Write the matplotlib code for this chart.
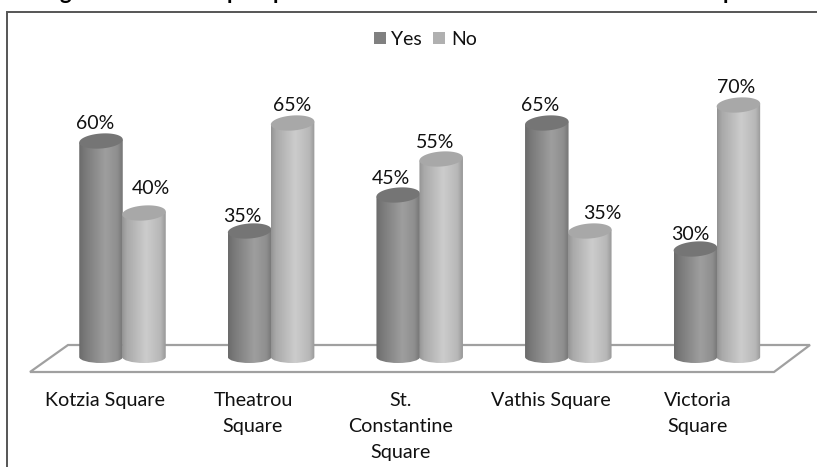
#!/usr/bin/env python3
"""
Yes/No shares per square, drawn as 3D style cylinders.
"""

import numpy as np
import matplotlib
matplotlib.use("Agg")
import matplotlib.pyplot as plt
from matplotlib.path import Path
from matplotlib.patches import PathPatch, Polygon, Rectangle

categories = ["Kotzia Square", "Theatrou\nSquare", "St.\nConstantine\nSquare", "Vathis Square", "Victoria\nSquare"]
yes_values = [60, 35, 45, 65, 30]
no_values = [40, 65, 55, 35, 70]
series_names = ["Yes", "No"]

# label nudges in pixels, the labels are not placed evenly in the picture
yes_dx = [-6, -7, -7, -7, -5]
no_dx = [7, 0, -6, 13, -2]
no_dy = [25, 17, 17, 17, 17]
yes_dy = [17, 15, 16, 17, 15]
label_centres = [105, 253, 401, 551, 698]

plt.rcParams['font.family'] = ['Lato', 'DejaVu Sans']

W, H = 817, 467
PX_PER_CAT = 148.6
PX_PER_PCT = 3.6
X0_PX = 122.5
Y0_PX = 357.0


def px_x(p):
    return (p - X0_PX) / PX_PER_CAT


def px_y(p):
    return (Y0_PX - p) / PX_PER_PCT


fig = plt.figure(figsize=(W / 100, H / 100), dpi=100)
ax = fig.add_axes([0, 0, 1, 1])
ax.set_xlim(px_x(0), px_x(W))
ax.set_ylim(px_y(H), px_y(0))
ax.axis("off")

bar_w = 43.5 / PX_PER_CAT
rx = bar_w / 2
ry_top = 7.5 / PX_PER_PCT
ry_bot = 6.0 / PX_PER_PCT
tilt = 1.5 / PX_PER_PCT

# frame around the chart (cut off on the right and bottom)
ax.plot([px_x(7.5), px_x(7.5), px_x(W)], [px_y(H), px_y(12), px_y(12)],
        color="#555555", lw=1.4, solid_joinstyle="miter", zorder=1)

# floor
floor = [(30, 372), (68, 345), (810, 345), (774, 372)]
ax.add_patch(Polygon([(px_x(a), px_y(b)) for a, b in floor], closed=True,
                     facecolor="white", edgecolor="#a0a0a0", lw=1.6, zorder=1))


def shade(stops):
    xs = np.linspace(0, 1, 64)
    pos = [s[0] for s in stops]
    val = [s[1] for s in stops]
    return np.interp(xs, pos, val).reshape(1, -1)


yes_body = [(0, 0.42), (0.12, 0.47), (0.6, 0.62), (0.88, 0.56), (1, 0.46)]
no_body = [(0, 0.58), (0.1, 0.66), (0.55, 0.80), (0.88, 0.72), (1, 0.60)]
yes_top = "#757575"
no_top = "#a8a8a8"


def cylinder(xc, value, body, top, z):
    left, right = xc - rx, xc + rx
    verts = [(left, value - tilt), (left, 0)]
    codes = [Path.MOVETO, Path.LINETO]
    # bottom curve bends below zero in data
    k = 0.5523
    verts += [(left, -k * ry_bot), (xc - k * rx, -ry_bot), (xc, -ry_bot),
              (xc + k * rx, -ry_bot), (right, -k * ry_bot), (right, 0)]
    codes += [Path.CURVE4] * 6
    verts += [(right, value + tilt), (left, value - tilt)]
    codes += [Path.LINETO, Path.CLOSEPOLY]
    patch = PathPatch(Path(verts, codes), facecolor="none", edgecolor="none", zorder=z)
    ax.add_patch(patch)
    im = ax.imshow(shade(body), cmap="gray", vmin=0, vmax=1, aspect="auto",
                   extent=(left, right, -ry_bot, value + tilt), zorder=z, interpolation="bilinear")
    im.set_clip_path(patch)
    # top face, slightly tilted up to the right
    t = np.linspace(0, 2 * np.pi, 80)
    top_xy = np.column_stack([xc + rx * np.cos(t), value + ry_top * np.sin(t) + tilt * np.cos(t)])
    ax.add_patch(Polygon(top_xy, closed=True, facecolor=top, edgecolor="none", zorder=z + 0.1))


x = np.arange(len(categories))
offset = 21.5 / PX_PER_CAT
for i in range(len(categories)):
    cylinder(x[i] - offset, yes_values[i], yes_body, yes_top, 3)
    cylinder(x[i] + offset, no_values[i], no_body, no_top, 4)
    ax.text(x[i] - offset + yes_dx[i] / PX_PER_CAT, yes_values[i] + yes_dy[i] / PX_PER_PCT,
            f"{yes_values[i]}%", ha="center", va="center", fontsize=14, color="#111111", zorder=6)
    ax.text(x[i] + offset + no_dx[i] / PX_PER_CAT, no_values[i] + no_dy[i] / PX_PER_PCT,
            f"{no_values[i]}%", ha="center", va="center", fontsize=14, color="#111111", zorder=6)
    ax.text(px_x(label_centres[i]), px_y(392), categories[i], ha="center", va="top",
            fontsize=14.2, color="#111111", linespacing=1.63)

ax.set_xlim(px_x(0), px_x(W))
ax.set_ylim(px_y(H), px_y(0))

# legend
for name, col, sq_px, txt_px in zip(series_names, ["#808080", "#b0b0b0"], [374, 433], [391, 451]):
    ax.add_patch(Rectangle((px_x(sq_px), px_y(44)), 12 / PX_PER_CAT, 12 / PX_PER_PCT,
                           facecolor=col, edgecolor="none"))
    ax.text(px_x(txt_px), px_y(40), name, ha="left", va="center", fontsize=14, color="#111111")

# only the descenders of the cropped title remain in the picture
for ch, p in zip("gppp", [65, 233, 279, 729]):
    ax.text(px_x(p), px_y(-1), ch, ha="center", va="baseline", fontsize=16,
            fontweight="bold", color="black", clip_on=True)

fig.savefig("out.png", dpi=100)
